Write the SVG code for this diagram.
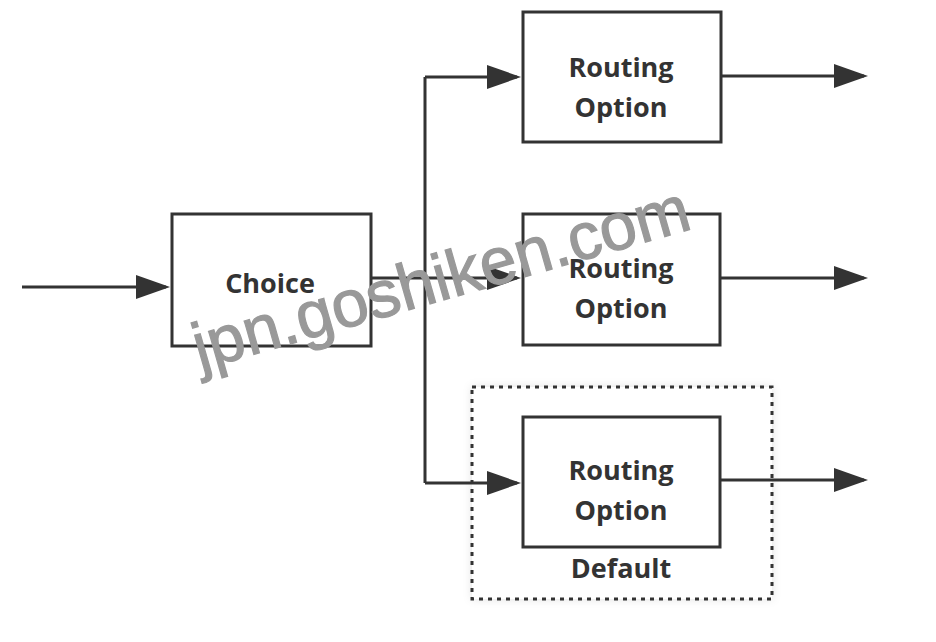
<svg xmlns="http://www.w3.org/2000/svg" width="936" height="642" viewBox="0 0 936 642">
  <style>
    .box{fill:#fff;stroke:#333;stroke-width:3}
    .lbl{font-family:"Open Sans","DejaVu Sans",sans-serif;font-weight:bold;font-size:27px;fill:#333;text-anchor:middle}
    .conn{fill:none;stroke:#333;stroke-width:3}
    .grp{fill:none;stroke:#333;stroke-width:3;stroke-dasharray:4 5}
    .wm{font-family:"Liberation Sans",Arial,sans-serif;font-size:66px;fill:#999;stroke:#999;stroke-width:1.2}
  </style>
  <defs>
    <marker id="arr" markerUnits="userSpaceOnUse" markerWidth="34" markerHeight="24" refX="30" refY="12" orient="auto">
      <path d="M0,0 L34,12 L0,24 Z" fill="#333"/>
    </marker>
    <filter id="sh" x="-10%" y="-10%" width="120%" height="120%">
      <feDropShadow dx="0" dy="0" stdDeviation="5" flood-color="#000" flood-opacity="0.12"/>
    </filter>
  </defs>
  <rect width="936" height="642" fill="#fff"/>

  <g id="default-group">
    <rect x="472" y="387" width="300" height="212" fill="#fff" stroke="none" filter="url(#sh)"/>
    <rect class="grp" x="472" y="387" width="300" height="212"/>
    <text class="lbl" x="621" y="578">Default</text>
  </g>

  <g id="choice">
    <rect class="box" x="172" y="214" width="199" height="132"/>
    <text class="lbl" x="270" y="293">Choice</text>
  </g>

  <g id="route1">
    <rect class="box" x="523" y="12" width="198" height="130"/>
    <text class="lbl" x="621" y="77">Routing</text>
    <text class="lbl" x="621" y="117">Option</text>
  </g>

  <g id="route2">
    <rect class="box" x="523" y="214" width="197" height="131"/>
    <text class="lbl" x="621" y="278">Routing</text>
    <text class="lbl" x="621" y="318">Option</text>
  </g>

  <g id="route3">
    <rect class="box" x="523" y="417" width="197" height="130"/>
    <text class="lbl" x="621" y="480">Routing</text>
    <text class="lbl" x="621" y="520">Option</text>
  </g>

  <g id="connectors">
    <path class="conn" d="M22,287 H166" marker-end="url(#arr)"/>
    <path class="conn" d="M371,278 H425 M425,77 V483"/>
    <path class="conn" d="M425,77 H517" marker-end="url(#arr)"/>
    <path class="conn" d="M425,278 H517" marker-end="url(#arr)"/>
    <path class="conn" d="M425,483 H517" marker-end="url(#arr)"/>
    <path class="conn" d="M721,76 H864" marker-end="url(#arr)"/>
    <path class="conn" d="M720,278 H864" marker-end="url(#arr)"/>
    <path class="conn" d="M720,480 H864" marker-end="url(#arr)"/>
  </g>

  <text class="wm" x="200" y="370" transform="rotate(-16 200 370)">jpn.goshiken.com</text>
</svg>
